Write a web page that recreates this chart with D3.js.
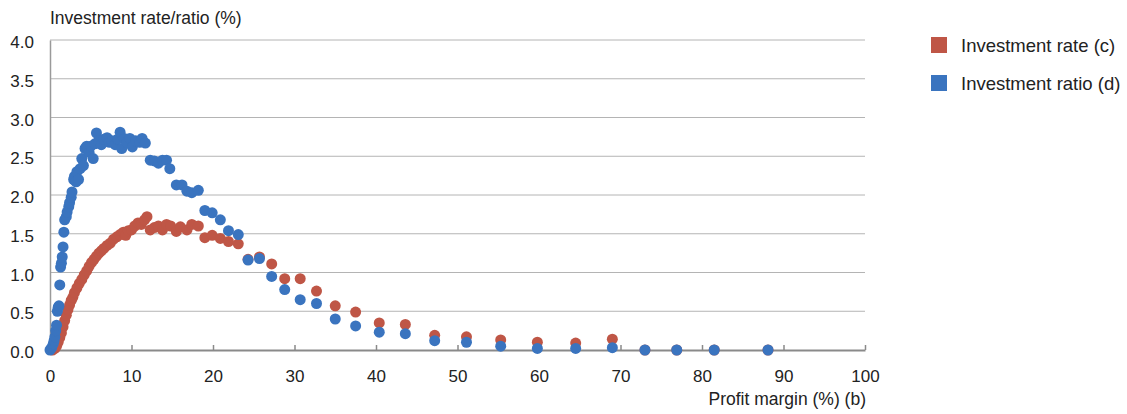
<!DOCTYPE html>
<html>
<head>
<meta charset="utf-8">
<script src="https://cdn.jsdelivr.net/npm/d3@7"></script>
<style>
  html, body { margin: 0; padding: 0; background: #fff; }
  svg { display: block; font-family: "Liberation Sans", Arial, Helvetica, sans-serif; }
</style>
</head>
<body>
<svg id="chart" width="1127" height="414"></svg>
<script>
// Profit margin (%) vs investment rate (c) and investment ratio (d)
const rateMargin = [0.3,0.6,0.8,1.0,1.2,1.4,1.6,1.8,2.0,2.2,2.4,2.6,2.8,3.0,3.3,3.6,3.9,4.2,4.5,4.8,5.1,5.4,5.7,6.0,6.3,6.6,7.0,7.4,7.8,8.2,8.6,9.0,9.3,9.6,10.0,10.4,10.8,11.2,11.6,11.9,12.3,12.8,13.3,13.8,14.3,14.8,15.5,16.0,16.8,17.4,18.2,19.0,19.9,20.9,21.9,23.1,24.3,25.7,27.2,28.8,30.7,32.7,35.0,37.5,40.4,43.6,47.2,51.1,55.3,59.8,64.5,69.0,73.0,76.9,81.5,88.1];
const rateValues = [0.0,0.02,0.05,0.1,0.16,0.22,0.3,0.38,0.45,0.52,0.58,0.64,0.68,0.74,0.8,0.86,0.91,0.97,1.02,1.08,1.13,1.17,1.21,1.25,1.28,1.31,1.35,1.38,1.43,1.46,1.49,1.52,1.48,1.54,1.55,1.6,1.64,1.62,1.68,1.72,1.55,1.58,1.6,1.55,1.62,1.6,1.53,1.59,1.55,1.62,1.6,1.45,1.48,1.44,1.4,1.37,1.17,1.2,1.11,0.92,0.92,0.76,0.57,0.49,0.35,0.33,0.19,0.17,0.13,0.1,0.09,0.14,0.0,0.0,0.0,0.0];

const ratioMargin = [0.0,0.2,0.4,0.5,0.6,0.7,0.8,0.9,1.0,1.1,1.2,1.3,1.4,1.5,1.6,1.7,1.8,2.0,2.1,2.3,2.4,2.6,2.7,2.9,3.0,3.2,3.3,3.5,3.7,3.9,4.1,4.3,4.5,4.8,5.0,5.3,5.5,5.7,6.0,6.3,6.6,7.0,7.3,7.6,8.0,8.3,8.6,8.8,9.1,9.4,9.8,10.1,10.5,11.0,11.3,11.7,12.3,12.8,13.3,13.8,14.3,14.7,15.5,16.2,16.8,17.4,18.2,19.0,19.9,20.9,21.9,23.1,24.3,25.7,27.2,28.8,30.7,32.7,35.0,37.5,40.4,43.6,47.2,51.1,55.3,59.8,64.5,69.0,73.0,76.9,81.5,88.1];
const ratioValues = [0.0,0.03,0.08,0.12,0.17,0.25,0.32,0.5,0.55,0.57,0.84,1.07,1.12,1.2,1.33,1.52,1.68,1.72,1.78,1.85,1.9,1.97,2.04,2.2,2.24,2.17,2.3,2.2,2.34,2.47,2.38,2.6,2.63,2.55,2.63,2.47,2.66,2.8,2.7,2.65,2.72,2.74,2.68,2.7,2.65,2.72,2.81,2.6,2.73,2.68,2.73,2.62,2.7,2.68,2.73,2.67,2.45,2.44,2.41,2.45,2.45,2.34,2.13,2.13,2.05,2.03,2.06,1.8,1.77,1.68,1.54,1.49,1.16,1.18,0.95,0.78,0.65,0.6,0.4,0.31,0.23,0.21,0.12,0.1,0.05,0.02,0.02,0.03,0.0,0.0,0.0,0.0];

const xTicks = [0,10,20,30,40,50,60,70,80,90,100];
const yTicks = [0,0.5,1.0,1.5,2.0,2.5,3.0,3.5,4.0];

const seriesNames = ["Investment rate (c)", "Investment ratio (d)"];
const seriesColors = ["#bf5646", "#3a74bf"];

const svg = d3.select("#chart");
const plotLeft = 50, plotRight = 865, plotTop = 40, plotBottom = 350;

const x = d3.scaleLinear().domain([0, 100]).range([plotLeft, plotRight]);
const y = d3.scaleLinear().domain([0, 4]).range([plotBottom, plotTop]);

// horizontal gridlines
svg.append("g")
  .selectAll("line")
  .data(yTicks.filter(d => d > 0))
  .join("line")
  .attr("x1", plotLeft).attr("x2", plotRight)
  .attr("y1", d => y(d)).attr("y2", d => y(d))
  .attr("stroke", "#b4b4b4").attr("stroke-width", 1);

// y axis
const yAxis = svg.append("g")
  .attr("transform", `translate(${plotLeft},0)`)
  .call(d3.axisLeft(y).tickValues(yTicks).tickFormat(d3.format(".1f")).tickSize(0).tickPadding(16));
yAxis.select(".domain").attr("stroke", "#9a9a9a").attr("stroke-width", 1.5);
yAxis.selectAll("text")
  .attr("font-size", 17).attr("fill", "#222").attr("dy", "0.45em")
  .attr("font-family", "Liberation Sans, Arial, sans-serif");

// x axis with short inward ticks
const xAxis = svg.append("g")
  .attr("transform", `translate(0,${plotBottom})`)
  .call(d3.axisBottom(x).tickValues(xTicks).tickSize(-5).tickPadding(20).tickSizeOuter(0));
xAxis.select(".domain").attr("stroke", "#8a8a8a").attr("stroke-width", 2);
xAxis.selectAll(".tick line").attr("stroke", "#8a8a8a").attr("stroke-width", 1.5);
xAxis.selectAll("text")
  .attr("font-size", 17).attr("fill", "#222")
  .attr("font-family", "Liberation Sans, Arial, sans-serif");

// axis titles
svg.append("text")
  .attr("x", 50).attr("y", 24)
  .attr("font-size", 17.5).attr("fill", "#222")
  .text("Investment rate/ratio (%)");
svg.append("text")
  .attr("x", 866).attr("y", 405)
  .attr("text-anchor", "end")
  .attr("font-size", 17.5).attr("fill", "#222")
  .text("Profit margin (%) (b)");

// scatter points: rate underneath, ratio on top
const rateData = rateMargin.map((m, i) => ({ m, v: rateValues[i] }));
const ratioData = ratioMargin.map((m, i) => ({ m, v: ratioValues[i] }));

svg.append("g")
  .selectAll("circle")
  .data(rateData)
  .join("circle")
  .attr("cx", d => x(d.m)).attr("cy", d => y(d.v))
  .attr("r", 5.5).attr("fill", seriesColors[0]);

svg.append("g")
  .selectAll("circle")
  .data(ratioData)
  .join("circle")
  .attr("cx", d => x(d.m)).attr("cy", d => y(d.v))
  .attr("r", 5.5).attr("fill", seriesColors[1]);

// legend
const legend = svg.append("g")
  .selectAll("g")
  .data(seriesNames)
  .join("g")
  .attr("transform", (d, i) => `translate(931,${37 + i * 38})`);
legend.append("rect")
  .attr("width", 16).attr("height", 16)
  .attr("fill", (d, i) => seriesColors[i]);
legend.append("text")
  .attr("x", 30).attr("y", 15)
  .attr("font-size", 18.5).attr("fill", "#222")
  .text(d => d);
</script>
</body>
</html>
